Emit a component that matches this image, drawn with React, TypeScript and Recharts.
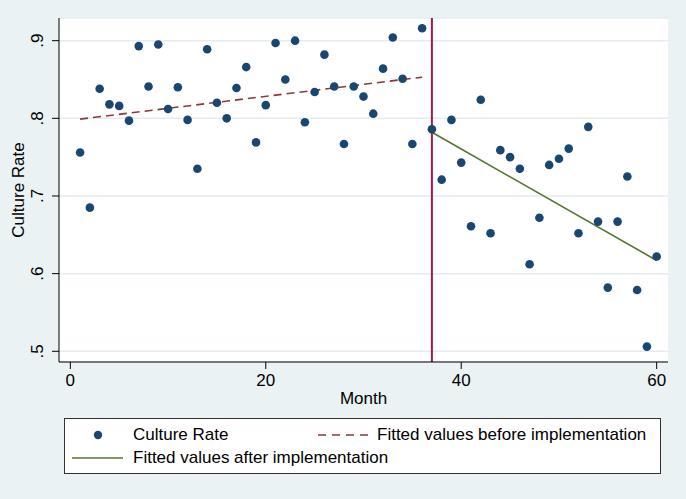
import { ComposedChart, Scatter, Line, XAxis, YAxis, CartesianGrid, ReferenceLine } from 'recharts';

const months = [
  1, 2, 3, 4, 5, 6, 7, 8, 9, 10, 11, 12, 13, 14, 15, 16, 17, 18, 19, 20,
  21, 22, 23, 24, 25, 26, 27, 28, 29, 30, 31, 32, 33, 34, 35, 36, 37, 38, 39, 40,
  41, 42, 43, 44, 45, 46, 47, 48, 49, 50, 51, 52, 53, 54, 55, 56, 57, 58, 59, 60
];

const cultureRate = [
  0.756, 0.685, 0.838, 0.818, 0.816, 0.797, 0.893, 0.841, 0.895, 0.812,
  0.840, 0.798, 0.735, 0.889, 0.820, 0.800, 0.839, 0.866, 0.769, 0.817,
  0.897, 0.850, 0.900, 0.795, 0.834, 0.882, 0.841, 0.767, 0.841, 0.828,
  0.806, 0.864, 0.904, 0.851, 0.767, 0.916, 0.786, 0.721, 0.798, 0.743,
  0.661, 0.824, 0.652, 0.759, 0.750, 0.735, 0.612, 0.672, 0.740, 0.748,
  0.761, 0.652, 0.789, 0.667, 0.582, 0.667, 0.725, 0.579, 0.506, 0.622
];

// fitted line endpoints
const beforeMonths = [1, 36];
const beforeFit = [0.799, 0.853];
const afterMonths = [37, 60];
const afterFit = [0.782, 0.617];

const implementationMonth = 37;
const xTicks = [0, 20, 40, 60];
const yTicks = [0.5, 0.6, 0.7, 0.8, 0.9];

const FONT = '"Liberation Sans", Arial, Helvetica, sans-serif';
const NAVY = '#1a476f';
const MAROON = '#90353b';
const GREEN = '#55752f';
const CRANBERRY = '#a3194a';

const points = months.map((m, i) => ({ m, v: cultureRate[i] }));
const before = beforeMonths.map((m, i) => ({ m, v: beforeFit[i] }));
const after = afterMonths.map((m, i) => ({ m, v: afterFit[i] }));

const fmt = (v: number) => v.toFixed(1).replace(/^0/, '');

const YTick = ({ x, y, payload }: any) => {
  const bx = x - 7;
  return (
    <text x={bx} y={y} transform={`rotate(-90 ${bx} ${y})`} textAnchor="middle"
      fontSize={17} fontFamily={FONT} fill="#000">
      {fmt(payload.value)}
    </text>
  );
};

const Dot = (props: any) => <circle cx={props.cx} cy={props.cy} r={4.3} fill={NAVY} />;

export default function App() {
  return (
    <div style={{ position: 'absolute', left: 0, top: 0, width: 686, height: 499, background: '#eaf2f3', fontFamily: FONT }}>
      <ComposedChart width={686} height={499} margin={{ top: 18, right: 18, bottom: 107, left: 0 }}>
        <CartesianGrid vertical={false} fill="#fff" stroke="#e3ecef" strokeWidth={1.5} />
        <XAxis dataKey="m" type="number" domain={[-1.16, 61.16]} ticks={xTicks} allowDataOverflow
          height={30} tickSize={7} tickMargin={5} stroke="#000"
          tick={{ fontSize: 17, fill: '#000', fontFamily: FONT }}
          label={{
            content: () => (
              <text x={363.5} y={398} textAnchor="middle" dominantBaseline="central"
                fontSize={17} fontFamily={FONT} fill="#000">Month</text>
            )
          }} />
        <YAxis type="number" domain={[0.4862, 0.9292]} ticks={yTicks} allowDataOverflow
          width={59} tickSize={7} tickMargin={2} stroke="#000" tick={<YTick />}
          label={{
            content: () => (
              <text x={18} y={190} transform="rotate(-90 18 190)" textAnchor="middle" dominantBaseline="central"
                fontSize={17} fontFamily={FONT} fill="#000">Culture Rate</text>
            )
          }} />
        <ReferenceLine x={implementationMonth} stroke={CRANBERRY} strokeWidth={2} ifOverflow="extendDomain" />
        <Line data={before} dataKey="v" stroke={MAROON} strokeWidth={1.6} strokeDasharray="8 5"
          dot={false} activeDot={false} isAnimationActive={false} />
        <Line data={after} dataKey="v" stroke={GREEN} strokeWidth={1.6}
          dot={false} activeDot={false} isAnimationActive={false} />
        <Scatter data={points} dataKey="v" shape={<Dot />} isAnimationActive={false} />
      </ComposedChart>
      <div style={{ position: 'absolute', left: 64, top: 418, width: 597, height: 56, boxSizing: 'border-box',
        border: '1px solid #333', background: '#fff', fontSize: 17, color: '#000' }}>
        <svg width={597} height={56} style={{ position: 'absolute', left: -1, top: -1 }}>
          <circle cx={34} cy={17} r={4.2} fill={NAVY} />
          <line x1={254} y1={17} x2={306} y2={17} stroke={MAROON} strokeWidth={1.6} strokeDasharray="8 6" />
          <line x1={8} y1={40} x2={59} y2={40} stroke={GREEN} strokeWidth={1.6} />
        </svg>
        <div style={{ position: 'absolute', left: 68, top: 6, lineHeight: '20px', whiteSpace: 'nowrap' }}>Culture Rate</div>
        <div style={{ position: 'absolute', left: 312, top: 6, lineHeight: '20px', whiteSpace: 'nowrap' }}>Fitted values before implementation</div>
        <div style={{ position: 'absolute', left: 68, top: 29, lineHeight: '20px', whiteSpace: 'nowrap' }}>Fitted values after implementation</div>
      </div>
    </div>
  );
}
